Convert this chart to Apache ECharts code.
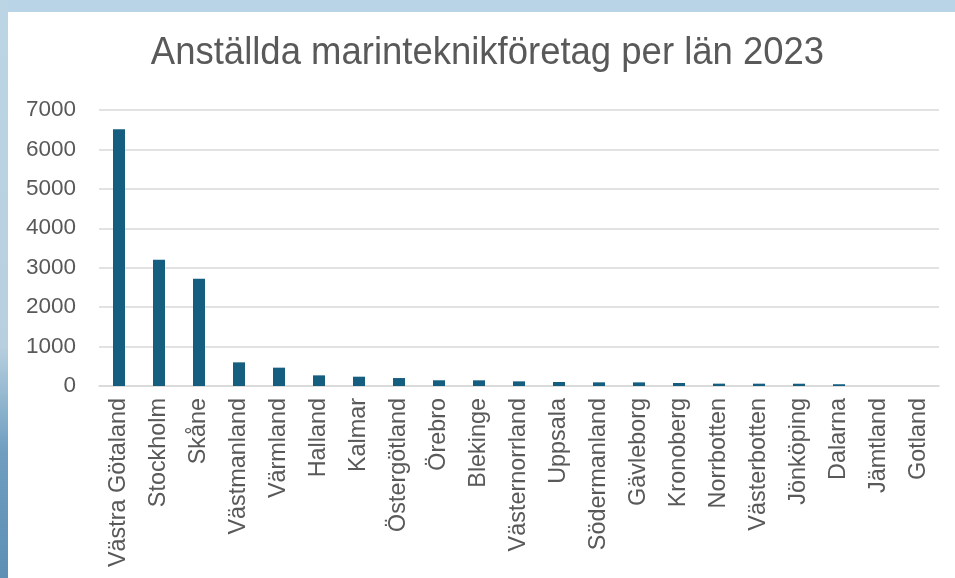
<!DOCTYPE html>
<html><head><meta charset="utf-8">
<script src="https://cdn.jsdelivr.net/npm/echarts@6/dist/echarts.min.js"></script>
<style>html,body{margin:0;padding:0;background:#fff}#c{width:955px;height:578px}</style>
</head><body><div id="c"></div>
<script>
const titleText = 'Anställda marinteknikföretag per län 2023';
const categories = ['Västra Götaland','Stockholm','Skåne','Västmanland','Värmland','Halland','Kalmar','Östergötland','Örebro','Blekinge','Västernorrland','Uppsala','Södermanland','Gävleborg','Kronoberg','Norrbotten','Västerbotten','Jönköping','Dalarna','Jämtland','Gotland'];
const values = [6510, 3200, 2720, 600, 465, 270, 236, 202, 145, 144, 118, 101, 93, 92, 76, 60, 59, 58, 45, 0, 0];
const yTicks = [0, 1000, 2000, 3000, 4000, 5000, 6000, 7000];

const chart = echarts.init(document.getElementById('c'));
chart.setOption({
  backgroundColor: '#ffffff',
  animation: false,
  graphic: [
    {type:'rect', shape:{x:0,y:0,width:955,height:12}, style:{fill:'#b9d4e6'}, z:-10},
    {type:'rect', shape:{x:0,y:0,width:8,height:578}, style:{fill:new echarts.graphic.LinearGradient(0,0,0,1,[{offset:0,color:'#bcd5e5'},{offset:0.6,color:'#b7cfdf'},{offset:0.78,color:'#6f9ec0'},{offset:1,color:'#5d8fb5'}])}, z:-10},
    {type:'text', x:487.5, y:35, scaleX:0.96, originX:0, originY:0,
     style:{text:titleText, x:0, y:0, textAlign:'center', textVerticalAlign:'top', fill:'#595959',
            font:"normal 38px 'Liberation Sans', Arial, sans-serif"}}
  ],
  grid: {left: 99, right: 16, top: 110, bottom: 192},
  xAxis: {
    type: 'category', data: categories,
    axisLine: {lineStyle: {color: '#d9d9d9', width: 1.5}},
    axisTick: {show: false},
    axisLabel: {rotate: 90, interval: 0, color: '#595959', fontSize: 23.4, fontFamily: "'Liberation Sans', Arial, sans-serif", margin: 12}
  },
  yAxis: {
    type: 'value', min: 0, max: 7000, interval: 1000,
    axisLine: {show: false}, axisTick: {show: false},
    splitLine: {lineStyle: {color: '#d9d9d9', width: 1.5}},
    axisLabel: {color: '#595959', fontSize: 22.5, fontFamily: "'Liberation Sans', Arial, sans-serif", margin: 23,
      formatter: v => yTicks.includes(v) ? String(v) : ''}
  },
  series: [{
    type: 'bar', data: values, barWidth: 12,
    itemStyle: {color: '#165e80'}
  }]
});
</script></body></html>
